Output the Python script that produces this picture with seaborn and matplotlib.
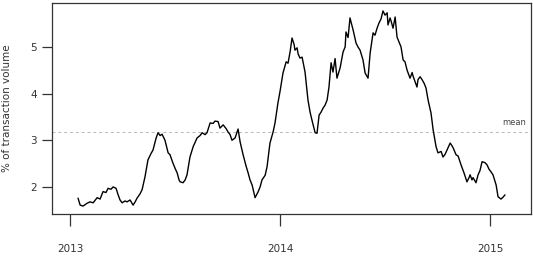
import matplotlib
matplotlib.use("Agg")
import matplotlib.pyplot as plt
import seaborn as sns
import pandas as pd

years = [2013.038, 2013.048, 2013.062, 2013.081, 2013.095, 2013.110, 2013.129, 2013.143, 2013.157, 2013.171,
         2013.181, 2013.195, 2013.205, 2013.219, 2013.229, 2013.238, 2013.248, 2013.262, 2013.271, 2013.286,
         2013.300, 2013.310, 2013.319, 2013.333, 2013.343, 2013.357, 2013.371, 2013.386, 2013.395, 2013.410,
         2013.419, 2013.429, 2013.438, 2013.452, 2013.467, 2013.476, 2013.490, 2013.500, 2013.510, 2013.519,
         2013.524, 2013.538, 2013.548, 2013.557, 2013.571, 2013.586, 2013.595, 2013.605, 2013.619, 2013.629,
         2013.643, 2013.652, 2013.667, 2013.681, 2013.690, 2013.705, 2013.714, 2013.729, 2013.743, 2013.752,
         2013.762, 2013.771, 2013.786, 2013.800, 2013.810, 2013.824, 2013.838, 2013.848, 2013.857, 2013.867,
         2013.881, 2013.895, 2013.905, 2013.914, 2013.929, 2013.938, 2013.952, 2013.967, 2013.976, 2013.990,
         2014.000, 2014.014, 2014.029, 2014.038, 2014.048, 2014.057, 2014.067, 2014.071, 2014.081, 2014.086,
         2014.095, 2014.105, 2014.119, 2014.133, 2014.143, 2014.152, 2014.167, 2014.176, 2014.186, 2014.195,
         2014.205, 2014.214, 2014.224, 2014.233, 2014.243, 2014.252, 2014.262, 2014.271, 2014.286, 2014.300,
         2014.310, 2014.314, 2014.324, 2014.333, 2014.348, 2014.362, 2014.371, 2014.381, 2014.395, 2014.405,
         2014.419, 2014.429, 2014.443, 2014.452, 2014.462, 2014.471, 2014.481, 2014.490, 2014.500, 2014.510,
         2014.514, 2014.524, 2014.529, 2014.538, 2014.548, 2014.557, 2014.567, 2014.576, 2014.586, 2014.595,
         2014.605, 2014.619, 2014.629, 2014.633, 2014.643, 2014.652, 2014.657, 2014.667, 2014.676, 2014.686,
         2014.695, 2014.705, 2014.719, 2014.729, 2014.743, 2014.752, 2014.767, 2014.776, 2014.786, 2014.795,
         2014.810, 2014.819, 2014.824, 2014.838, 2014.848, 2014.862, 2014.876, 2014.890, 2014.900, 2014.905,
         2014.914, 2014.919, 2014.933, 2014.943, 2014.952, 2014.962, 2014.976, 2014.986, 2014.995, 2015.005,
         2015.014, 2015.029, 2015.038, 2015.052, 2015.062, 2015.071]

share = [1.76, 1.61, 1.59, 1.65, 1.68, 1.66, 1.77, 1.74, 1.90, 1.88,
         1.97, 1.95, 2.00, 1.97, 1.83, 1.72, 1.66, 1.70, 1.68, 1.72,
         1.61, 1.68, 1.76, 1.85, 1.94, 2.22, 2.58, 2.72, 2.79, 3.05,
         3.16, 3.10, 3.13, 3.00, 2.73, 2.69, 2.51, 2.40, 2.30, 2.15,
         2.11, 2.09, 2.15, 2.26, 2.64, 2.86, 2.95, 3.05, 3.10, 3.16,
         3.12, 3.16, 3.37, 3.36, 3.41, 3.40, 3.26, 3.33, 3.25, 3.18,
         3.12, 3.00, 3.05, 3.24, 2.96, 2.69, 2.45, 2.30, 2.15, 2.04,
         1.77, 1.89, 2.00, 2.15, 2.25, 2.43, 2.94, 3.18, 3.37, 3.80,
         4.05, 4.44, 4.68, 4.65, 4.90, 5.19, 5.05, 4.93, 4.98, 4.85,
         4.76, 4.78, 4.46, 3.86, 3.60, 3.43, 3.16, 3.15, 3.54, 3.60,
         3.69, 3.75, 3.86, 4.14, 4.66, 4.46, 4.75, 4.33, 4.55, 4.89,
         5.00, 5.32, 5.20, 5.62, 5.36, 5.08, 5.00, 4.93, 4.72, 4.44,
         4.33, 4.87, 5.30, 5.25, 5.40, 5.51, 5.60, 5.77, 5.68, 5.73,
         5.47, 5.62, 5.55, 5.40, 5.64, 5.21, 5.10, 5.00, 4.72, 4.68,
         4.50, 4.33, 4.45, 4.38, 4.25, 4.14, 4.30, 4.36, 4.30, 4.22,
         4.12, 3.86, 3.58, 3.22, 2.86, 2.73, 2.76, 2.64, 2.70, 2.79,
         2.94, 2.88, 2.84, 2.69, 2.66, 2.47, 2.30, 2.11, 2.20, 2.26,
         2.15, 2.20, 2.09, 2.26, 2.35, 2.54, 2.52, 2.47, 2.38, 2.32,
         2.26, 2.04, 1.79, 1.74, 1.78, 1.83]

mean_value = 3.17
x_ticks = [2013, 2014, 2015]
x_tick_labels = ["2013", "2014", "2015"]
y_ticks = [2, 3, 4, 5]

df = pd.DataFrame({"year": years, "share": share})

sns.set_style("white")
plt.rcParams["font.family"] = ["DejaVu Sans"]

fig = plt.figure(figsize=(5.33, 2.61), dpi=100)
ax = fig.add_axes([52 / 533, 1 - 214 / 261, (531 - 52) / 533, (214 - 3) / 261])

sns.lineplot(data=df, x="year", y="share", ax=ax, color="black", linewidth=1.0)
ax.axhline(mean_value, color="#b8b8b8", linestyle=(0, (3, 3)), linewidth=0.7, zorder=0)
ax.text(2015.17, mean_value + 0.12, "mean", fontsize=6, color="#444444", ha="right", va="bottom")

ax.set_xlim(2012.914, 2015.195)
ax.set_ylim(1.42, 5.94)
ax.set_xticks(x_ticks)
ax.set_xticklabels(x_tick_labels)
ax.set_yticks(y_ticks)
ax.set_xlabel("")
ax.set_ylabel("% of transaction volume", fontsize=7.5, color="#333333", labelpad=13)

for s in ax.spines.values():
    s.set_visible(True)
    s.set_color("#333333")
    s.set_linewidth(0.9)

ax.tick_params(axis="x", direction="out", length=8.5, width=0.9, color="#333333",
               labelsize=7.5, labelcolor="#333333", pad=13, bottom=True)
ax.tick_params(axis="y", direction="out", length=7, width=0.9, color="#333333",
               labelsize=7.5, labelcolor="#333333", pad=4, left=True)

fig.savefig("out.png", dpi=100)
